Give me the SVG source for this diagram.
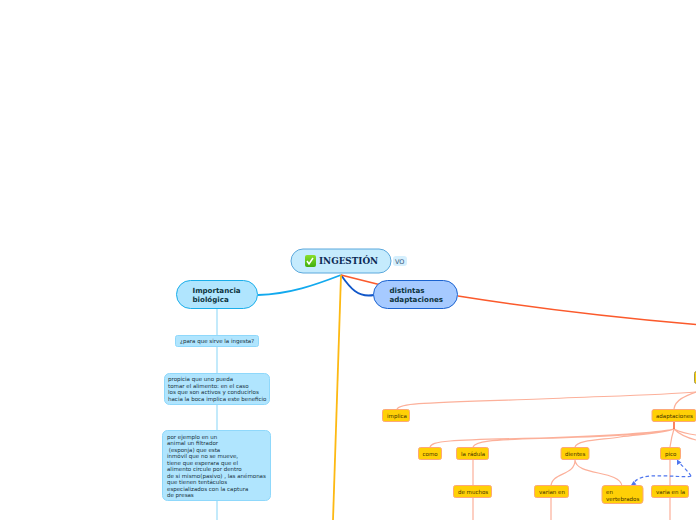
<svg xmlns="http://www.w3.org/2000/svg" width="696" height="520" viewBox="0 0 696 520">
<style>
text{font-family:"DejaVu Sans",sans-serif;}
.t{font-size:5.5px;fill:#17303c}
.y{font-size:5.5px;fill:#3f3000}
.m{font-size:7.1px;font-weight:bold;fill:#0c3440}
.bl{fill:#b0e5fe;stroke:#8fd8fb;stroke-width:1}
.yb{fill:#ffd006;stroke:#fda878;stroke-width:1}
.l{fill:none;stroke:#fcb09a;stroke-width:1.2}
.lb{fill:none;stroke:#b5e5fb;stroke-width:1.6}
</style>
<defs><linearGradient id="g" x1="0" y1="0" x2="0" y2="1"><stop offset="0" stop-color="#8adf2a"/><stop offset="1" stop-color="#3fae0c"/></linearGradient></defs>
<rect width="696" height="520" fill="#fff"/>
<g id="connectors">
<path d="M341 275C315 285 290 294 258 295" fill="none" stroke="#12a9ee" stroke-width="1.8"/>
<path d="M341 275C350 288 358 298 374 295" fill="none" stroke="#1157c9" stroke-width="1.8"/>
<path d="M341 275L381 285" fill="none" stroke="#fb5a2c" stroke-width="1.8"/>
<path d="M341 275L333 520" fill="none" stroke="#fdb913" stroke-width="1.8"/>
<path d="M458 296C540 309 620 318 696 324.500" fill="none" stroke="#fb5a2c" stroke-width="1.6"/>
<path class="lb" d="M217 309V335M217 347V373M217 405V430M217 501V520"/>
<path class="l" d="M397 409C400 403 420 403 540 399C610 396 660 395 696 392"/>
<path class="l" d="M674 409C675 400 685 396 696 392"/>
<path class="l" d="M430 447C432 441 445 440 540 438C600 436 650 434 674 429M473 447C475 441 490 440 540 438.500C600 437 650 435 674 429M575 447C577 440 600 440 620 437C645 434 665 433 674 429M670 447C671 440 672 435 674 429M674 429C680 432 688 434 696 435M674 429C680 435 688 438 696 440"/>
<path d="M674 422V429" stroke="#fb5a2c" stroke-width="1.5"/>
<path class="l" d="M473 460V486M473 498V520M551 498V520M670 460V486M670 498V520"/>
<path class="l" d="M575 460C575 476 552 472 551 486M575 460C576 476 620 470 622 486"/>
<path d="M691 476C690 478 668 475 650 476C640 477 635 480 633 484" fill="none" stroke="#4f76ee" stroke-width="1.2" stroke-dasharray="3.500 2.500"/>
<path d="M691 476C688 471 682 466 679 462" fill="none" stroke="#4f76ee" stroke-width="1.2" stroke-dasharray="3.500 2.500"/>
<path d="M630.500 486l6-1.500-3-3.500zM677 459.500l0 5.500 4.500-2.500z" fill="#4f76ee"/>
</g>
<g id="ingestion">
<rect x="291" y="249" width="100" height="24" rx="12" fill="#c5ebfd" stroke="#5ba8dc"/>
<rect x="305" y="255" width="11" height="12" rx="2" fill="url(#g)"/>
<path d="M307 261l2 3 4-6" fill="none" stroke="#fff" stroke-width="1.5"/>
<text x="319" y="264" font-size="8.800" font-weight="bold" fill="#0b2a55" style="font-family:'DejaVu Serif',serif">INGESTIÓN</text>
</g>
<g id="vo">
<rect x="393" y="256" width="14" height="10" rx="3" fill="#d5effd"/>
<text x="395" y="263.500" font-size="6.500" fill="#375a7a">VO</text>
</g>
<g id="importancia">
<rect x="176.500" y="280.500" width="81" height="28" rx="14" class="bl" style="stroke:#1aaeea"/>
<text class="m" x="192.500" y="293">Importancia</text><text class="m" x="192.500" y="302">biológica</text>
</g>
<g id="adaptaciones-main">
<rect x="373.500" y="280.500" width="84" height="28" rx="14" fill="#a6caff" stroke="#1b63d0"/>
<text class="m" x="389.500" y="293">distintas</text><text class="m" x="389.500" y="302">adaptaciones</text>
</g>
<g id="para-que">
<rect x="175.500" y="335.500" width="83" height="11" rx="2" class="bl"/>
<text class="t" x="180" y="343">¿para que sirve la ingesta?</text>
</g>
<g id="propicia">
<rect x="164.500" y="373.500" width="105" height="31" rx="5" class="bl"/>
<text class="t"><tspan x="168" y="381">propicia que uno pueda</tspan><tspan x="168" y="387.500">tomar el alimento: en el caso</tspan><tspan x="168" y="394">los que son activos y conducirlos</tspan><tspan x="168" y="401">hacia la boca implica este beneficio</tspan></text>
</g>
<g id="ejemplo">
<rect x="162.500" y="430.500" width="108" height="70" rx="5" class="bl"/>
<text class="t"><tspan x="167" y="439">por ejemplo en un</tspan><tspan x="167" y="445">animal un filtrador</tspan><tspan x="167" y="452"> (esponja) que esta</tspan><tspan x="167" y="458">inmóvil que no se mueve,</tspan><tspan x="167" y="465">tiene que esperara que el</tspan><tspan x="167" y="471">alimento circule por dentro</tspan><tspan x="167" y="478">de si mismo(pasivo) , las anémonas</tspan><tspan x="167" y="484">que tienen tentáculos</tspan><tspan x="167" y="491">especializados con la captura</tspan><tspan x="167" y="497">de presas</tspan></text>
</g>
<g id="implica"><rect x="382.500" y="409.500" width="27" height="12" rx="2" class="yb"/><text class="y" x="387" y="418">implica</text></g>
<g id="adaptaciones"><rect x="652" y="409.500" width="44" height="12" rx="2" class="yb"/><text class="y" x="656" y="418">adaptaciones</text></g>
<g id="top-right"><rect x="694.500" y="371.500" width="6" height="12" rx="2" fill="#ffd006" stroke="#a09a50"/></g>
<g id="como"><rect x="418.500" y="447.500" width="23" height="12" rx="2" class="yb"/><text class="y" x="422.500" y="456">como</text></g>
<g id="radula"><rect x="456.500" y="447.500" width="32" height="12" rx="2" class="yb"/><text class="y" x="461" y="456">la rádula</text></g>
<g id="dientes"><rect x="561" y="447.500" width="28" height="12" rx="2" class="yb"/><text class="y" x="565" y="456">dientes</text></g>
<g id="pico"><rect x="660.500" y="447.500" width="20" height="12" rx="2" class="yb"/><text class="y" x="665" y="456">pico</text></g>
<g id="de-muchos"><rect x="453.500" y="485.500" width="38" height="12" rx="2" class="yb"/><text class="y" x="458" y="494">de muchos</text></g>
<g id="varian"><rect x="534.500" y="485.500" width="34" height="12" rx="2" class="yb"/><text class="y" x="539" y="494">varian en</text></g>
<g id="vertebrados"><rect x="602" y="485.500" width="41" height="18" rx="3" class="yb"/><text class="y"><tspan x="606" y="494">en</tspan><tspan x="606" y="500.500">vertebrados</tspan></text></g>
<g id="varia"><rect x="651.500" y="485.500" width="37" height="12" rx="2" class="yb"/><text class="y" x="656" y="494">varia en la</text></g>
</svg>
